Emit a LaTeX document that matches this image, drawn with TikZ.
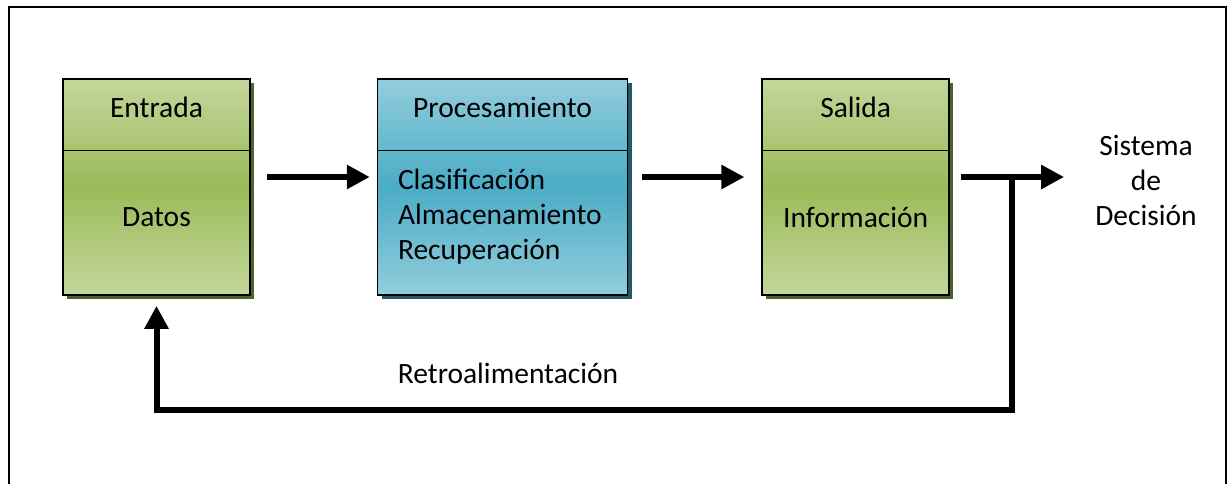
\documentclass[tikz,border=0pt]{standalone}
\usepackage{fontspec}
\setmainfont{Carlito}
\usetikzlibrary{positioning,arrows.meta,shadows}
\definecolor{greenlight}{HTML}{C3D69B}
\definecolor{greenmid}{HTML}{9BBB59}
\definecolor{greenshadow}{HTML}{4F6228}
\definecolor{bluelight}{HTML}{93CDDD}
\definecolor{bluemid}{HTML}{4BACC6}
\definecolor{blueshadow}{HTML}{215968}

\begin{document}
\begin{tikzpicture}[x=1pt,y=-1pt,font=\fontsize{29.5}{35}\selectfont]
		\tikzstyle {block} = [draw=black, line width=1.6pt, minimum height=216pt, inner sep=0pt]
		\tikzstyle {green block} = [block, minimum width=187pt, top color=greenlight, bottom color=greenlight, middle color=greenmid, drop shadow={shadow xshift=4pt, shadow yshift=-4pt, fill=greenshadow, opacity=1}]
		\tikzstyle {blue block} = [block, minimum width=250pt, top color=bluelight, bottom color=bluelight, middle color=bluemid, drop shadow={shadow xshift=4pt, shadow yshift=-4pt, fill=blueshadow, opacity=1}]
		\tikzstyle {divider} = [line width=1.2pt]
		\tikzstyle {flow} = [line width=6pt, -{Triangle[length=23pt,width=23pt]}]

		\useasboundingbox (0,0) rectangle (1228,483);
		\draw[line width=2.8pt] (9,490) -- (9,7) -- (1226,7) -- (1226,490);

		% bloques
		\node[green block] (entrada) at (156.5,187) {};
		\node[blue block, right=126pt of entrada] (proc) {};
		\node[green block, right=133pt of proc] (salida) {};

		\draw[divider] ([yshift=-72pt]entrada.north west) -- ([yshift=-72pt]entrada.north east);
		\draw[divider] ([yshift=-72pt]proc.north west) -- ([yshift=-72pt]proc.north east);
		\draw[divider] ([yshift=-72pt]salida.north west) -- ([yshift=-72pt]salida.north east);

		\node (entradaT) at ([yshift=-29pt]entrada.north) {Entrada};
		\node (entradaB) at ([yshift=-30pt]entrada.center) {Datos};
		\node (procT) at ([yshift=-29pt]proc.north) {Procesamiento};
		\node[anchor=west, align=left, inner sep=0pt] (procB) at ([xshift=21pt,yshift=-30pt]proc.west) {Clasificación\\Almacenamiento\\Recuperación};
		\node (salidaT) at ([yshift=-29pt]salida.north) {Salida};
		\node (salidaB) at ([yshift=-30pt]salida.center) {Información};

		\node[align=center, inner sep=0pt] (decision) at (1146,180) {Sistema\\de\\Decisión};
		\node (retro) at (508,373) {Retroalimentación};

		% flechas
		\coordinate (split) at ([xshift=62pt,yshift=10pt]salida.east);
		\draw[flow, shorten <=16pt, shorten >=7pt] ([yshift=10pt]entrada.east) -- ([yshift=10pt]proc.west);
		\draw[flow, shorten <=14pt, shorten >=17pt] ([yshift=10pt]proc.east) -- ([yshift=10pt]salida.west);
		\draw[flow, shorten <=11pt, shorten >=31pt] ([yshift=10pt]salida.east) -- (decision.west |- split);
		\draw[flow, shorten >=10pt] (split) -- ++(0,233) -| (entrada.south);
	\end{tikzpicture}
\end{document}
